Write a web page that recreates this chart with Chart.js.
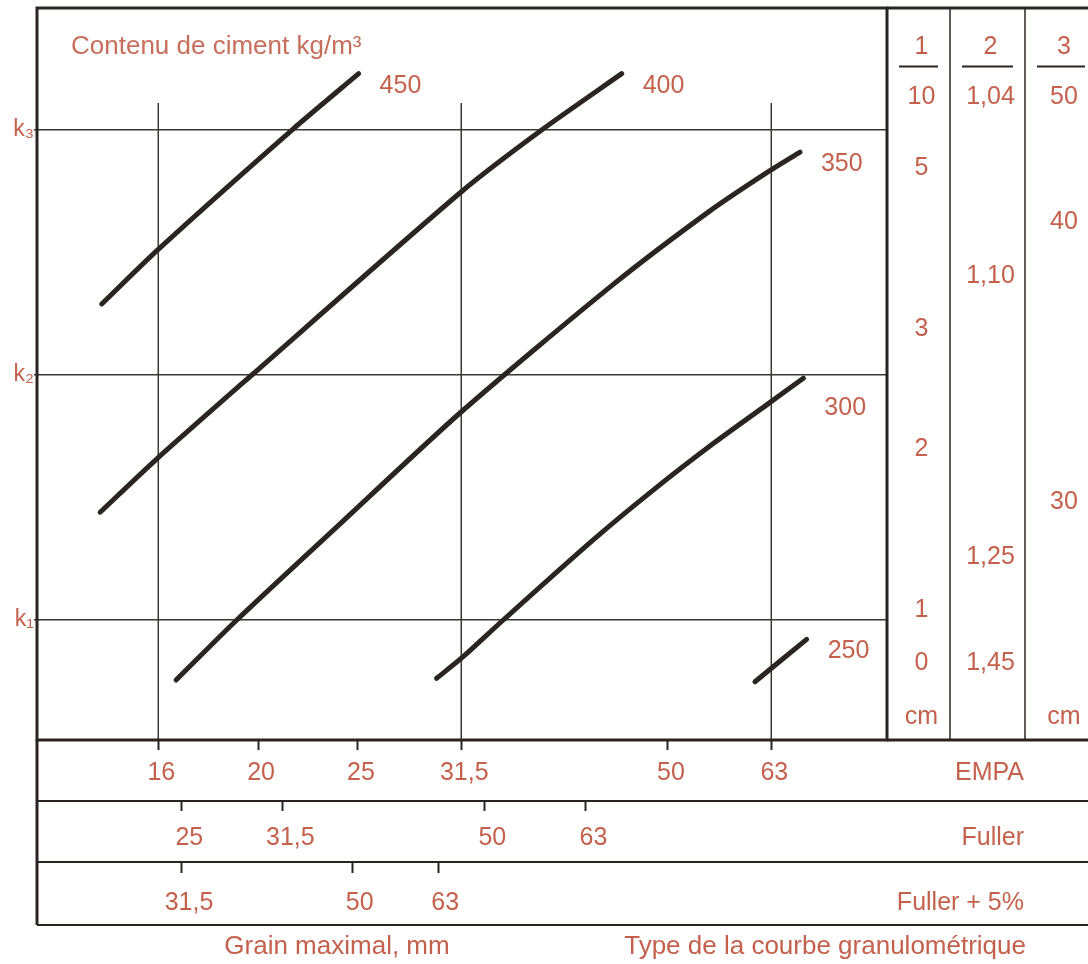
<!DOCTYPE html>
<html>
<head>
<meta charset="utf-8">
<script src="https://cdn.jsdelivr.net/npm/chart.js@4.4.0/dist/chart.umd.min.js"></script>
<style>
  body { margin: 0; background: #fff; }
  canvas { display: block; }
</style>
</head>
<body>
<canvas id="nomogram" width="1088" height="964"></canvas>
<script>
// Cement content curves: max grain (EMPA, mm) against k level
const cementLevels = [450, 400, 350, 300, 250];
const grain450 = [14.10, 15.97, 21.57, 25.04];
const k450 = [2.29, 2.51, 3.00, 3.23];
const grain400 = [14.05, 15.97, 19.72, 31.55, 37.70, 45.09];
const k400 = [1.44, 1.66, 2.00, 2.75, 3.00, 3.23];
const grain350 = [16.65, 19.07, 23.85, 31.51, 44.25, 54.93, 62.58, 67.17];
const k350 = [0.755, 1.00, 1.38, 1.85, 2.37, 2.67, 2.83, 2.91];
const grain300 = [29.81, 31.53, 34.60, 42.31, 48.38, 55.33, 62.35, 67.68];
const k300 = [0.762, 0.845, 1.00, 1.327, 1.53, 1.72, 1.878, 1.987];
const grain250 = [60.74, 68.18];
const k250 = [0.748, 0.921];

// Axes
const kTicks = [1, 2, 3];
const kLabels = ['k\u2081', 'k\u2082', 'k\u2083'];
const empaTicks = [16, 20, 25, 31.5, 50, 63];
const fullerTicks = [25, 31.5, 50, 63];
const fuller5Ticks = [31.5, 50, 63];
const majorGrain = [16, 31.5, 63];
const gridTopK = 3.11;

// Side columns (value printed at its k level)
const colHeaders = ['1', '2', '3'];
const col1Labels = ['10', '5', '3', '2', '1', '0', 'cm'];
const col1K = [3.135, 2.845, 2.188, 1.698, 1.041, 0.824, 0.604];
const col2Labels = ['1,04', '1,10', '1,25', '1,45'];
const col2K = [3.135, 2.404, 1.257, 0.824];
const col3Labels = ['50', '40', '30', 'cm'];
const col3K = [3.135, 2.624, 1.482, 0.604];

const bandNames = ['EMPA', 'Fuller', 'Fuller + 5%'];

const inkColor = '#2b2522';
const gridColor = '#3a3734';
const textColor = '#c4614c';
const fontFamily = "'Liberation Sans', Arial, 'DejaVu Sans', sans-serif";
const labelSize = 25;
const titleSize = 26;
const colWidths = [63, 75, 72];

function curve(grains, ks, level, labelDy) {
    return {
        label: String(level),
        data: grains.map((g, i) => ({ x: g, y: ks[i] })),
        borderColor: inkColor,
        borderWidth: 5,
        borderCapStyle: 'round',
        borderJoinStyle: 'round',
        pointRadius: 0,
        showLine: true,
        tension: 0.25,
        labelDy: labelDy || 0
    };
}

function fixedTicks(values) {
    return scale => { scale.ticks = values.map(v => ({ value: v })); };
}

function fitTo(size) {
    return s => {
        if (s.isHorizontal()) s.height = size; else s.width = size;
        s.paddingTop = s.paddingBottom = s.paddingLeft = s.paddingRight = 0;
    };
}

const commaLabel = v => String(v).replace('.', ',');

function bandAxis(min, max, ticks, height, weight, tickLength, padding, labelOffset) {
    return {
        type: 'logarithmic',
        position: 'bottom',
        weight: weight,
        min: min,
        max: max,
        bounds: 'data',
        afterBuildTicks: fixedTicks(ticks),
        afterFit: fitTo(height),
        grid: { drawOnChartArea: false, drawTicks: true, tickLength: tickLength, tickWidth: 2, tickColor: inkColor },
        border: { display: false },
        ticks: {
            callback: commaLabel,
            color: textColor,
            font: { family: fontFamily, size: labelSize },
            padding: padding,
            labelOffset: labelOffset,
            autoSkip: false,
            maxRotation: 0,
            minRotation: 0
        }
    };
}

function line(ctx, x1, y1, x2, y2) {
    ctx.beginPath();
    ctx.moveTo(x1, y1);
    ctx.lineTo(x2, y2);
    ctx.stroke();
}

const nomogramPlugin = {
    id: 'nomogram',
    beforeDatasetsDraw(chart) {
        const { ctx, chartArea, scales } = chart;
        const yTop = scales.y.getPixelForValue(gridTopK);
        ctx.save();
        ctx.strokeStyle = gridColor;
        ctx.lineWidth = 1.5;
        majorGrain.forEach(g => {
            const px = scales.x.getPixelForValue(g);
            line(ctx, px, yTop, px, chartArea.bottom);
        });
        ctx.restore();
    },
    afterDraw(chart) {
        const { ctx, chartArea: a, scales, width } = chart;
        const y = scales.y;
        const bandBottom = scales.x3.bottom;
        ctx.save();
        ctx.strokeStyle = inkColor;

        // frame and bands
        ctx.lineWidth = 3;
        ctx.strokeRect(a.left, a.top, a.right - a.left, a.bottom - a.top);
        line(ctx, a.right, a.top, width, a.top);
        line(ctx, a.right, a.bottom, width, a.bottom);
        line(ctx, a.left, a.bottom, a.left, bandBottom);
        ctx.lineWidth = 2;
        [scales.x2.top, scales.x3.top, bandBottom].forEach(yy => line(ctx, a.left, yy, width, yy));

        // side columns
        const colLeft = [a.right, a.right + colWidths[0], a.right + colWidths[0] + colWidths[1]];
        ctx.lineWidth = 1.5;
        line(ctx, colLeft[1], a.top, colLeft[1], a.bottom);
        line(ctx, colLeft[2], a.top, colLeft[2], a.bottom);

        ctx.fillStyle = textColor;
        ctx.font = labelSize + 'px ' + fontFamily;
        ctx.textAlign = 'center';
        const colLabels = [col1Labels, col2Labels, col3Labels];
        const colK = [col1K, col2K, col3K];
        colHeaders.forEach((h, i) => {
            const cx = colLeft[i] + colWidths[i] / 2 + 3;
            ctx.textBaseline = 'alphabetic';
            ctx.fillText(h, cx, a.top + 46);
            ctx.lineWidth = 2;
            line(ctx, colLeft[i] + 12, a.top + 58.5, colLeft[i] + colWidths[i] - 12, a.top + 58.5);
            ctx.textBaseline = 'middle';
            colLabels[i].forEach((t, j) => ctx.fillText(t, cx, y.getPixelForValue(colK[i][j])));
        });

        // band names
        ctx.textAlign = 'right';
        ctx.textBaseline = 'middle';
        ['x', 'x2', 'x3'].forEach((id, i) => {
            const s = scales[id];
            const mid = s.top + s.options.grid.tickLength + s.options.ticks.padding + labelSize * 0.6;
            ctx.fillText(bandNames[i], colLeft[2] - 1, mid);
        });

        // curve labels
        ctx.textAlign = 'left';
        ctx.textBaseline = 'alphabetic';
        chart.data.datasets.forEach((ds, i) => {
            const pts = chart.getDatasetMeta(i).data;
            const end = pts[pts.length - 1];
            ctx.fillText(ds.label, end.x + 21, end.y + 19 + ds.labelDy);
        });

        // titles
        ctx.font = titleSize + 'px ' + fontFamily;
        ctx.textAlign = 'right';
        ctx.fillText('Type de la courbe granulom\u00e9trique', colLeft[2] + 1, bandBottom + 29);
        ctx.textAlign = 'center';
        ctx.fillText('Grain maximal, mm', a.left + 300, bandBottom + 29);
        ctx.textAlign = 'left';
        ctx.fillStyle = '#c76f5c';
        ctx.fillText('Contenu de ciment kg/m\u00b3', a.left + 34, a.top + 46);
        ctx.restore();
    }
};

new Chart(document.getElementById('nomogram'), {
    type: 'scatter',
    data: {
        datasets: [
            curve(grain450, k450, cementLevels[0]),
            curve(grain400, k400, cementLevels[1]),
            curve(grain350, k350, cementLevels[2]),
            curve(grain300, k300, cementLevels[3], 18),
            curve(grain250, k250, cementLevels[4])
        ]
    },
    options: {
        responsive: false,
        animation: false,
        devicePixelRatio: 1,
        events: [],
        layout: { autoPadding: false, padding: { top: 8, right: 201, bottom: 39, left: 0 } },
        plugins: { legend: { display: false }, tooltip: { enabled: false } },
        scales: {
            x: bandAxis(12.20, 81.6, empaTicks, 61, 0, 10, 8, 3),
            x2: bandAxis(17.97, 125.6, fullerTicks, 61, 1, 10, 12, 8),
            x3: bandAxis(21.28, 212.2, fuller5Ticks, 63, 2, 11, 15, 7),
            y: {
                type: 'linear',
                position: 'left',
                min: 0.5102,
                max: 3.498,
                bounds: 'data',
                afterBuildTicks: fixedTicks(kTicks),
                afterFit: fitTo(37),
                grid: { color: gridColor, lineWidth: 1.5, drawTicks: true, tickLength: 3, tickColor: gridColor },
                border: { display: false },
                ticks: {
                    callback: v => kLabels[kTicks.indexOf(v)],
                    color: textColor,
                    font: { family: fontFamily, size: 23 },
                    padding: 0
                }
            }
        }
    },
    plugins: [nomogramPlugin]
});
</script>
</body>
</html>
